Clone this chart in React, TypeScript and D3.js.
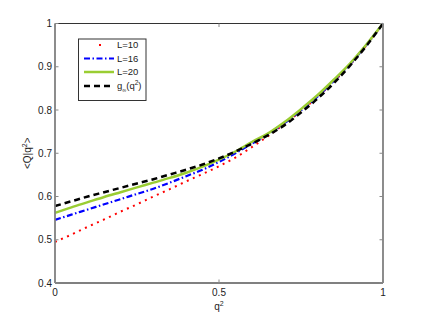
import React from "react";
import * as d3 from "d3";

const xs = [0, 0.05, 0.1, 0.15, 0.2, 0.25, 0.3, 0.35, 0.4, 0.45, 0.5, 0.55, 0.6, 0.65, 0.7, 0.75, 0.8, 0.85, 0.9, 0.95, 1];
const L10 = [0.495, 0.512, 0.53, 0.547, 0.565, 0.582, 0.6, 0.617, 0.635, 0.652, 0.67, 0.69, 0.714, 0.74, 0.768, 0.798, 0.83, 0.866, 0.905, 0.95, 1];
const L16 = [0.546, 0.558, 0.57, 0.582, 0.594, 0.606, 0.618, 0.632, 0.647, 0.662, 0.68, 0.7, 0.722, 0.745, 0.77, 0.799, 0.831, 0.867, 0.906, 0.951, 1];
const L20 = [0.562, 0.575, 0.587, 0.599, 0.61, 0.621, 0.632, 0.643, 0.655, 0.669, 0.685, 0.704, 0.726, 0.746, 0.772, 0.802, 0.834, 0.87, 0.908, 0.952, 1];
const Ginf = [0.578, 0.589, 0.6, 0.61, 0.62, 0.63, 0.64, 0.651, 0.662, 0.674, 0.688, 0.704, 0.722, 0.742, 0.765, 0.794, 0.826, 0.862, 0.903, 0.949, 1];

const yTicks = [0.4, 0.5, 0.6, 0.7, 0.8, 0.9, 1];
const xTicks = [0, 0.5, 1];
const legendLabels = ["L=10", "L=16", "L=20"];

const FONT = "'Liberation Sans', Arial, Helvetica, sans-serif";

export default function App() {
  const W = 424, H = 319;
  const left = 55, right = 383, top = 23.5, bottom = 283;
  const x = d3.scaleLinear().domain([0, 1]).range([left, right]);
  const y = d3.scaleLinear().domain([0.4, 1]).range([bottom, top]);
  const line = (vals: number[]) =>
    d3.line<number>().x((_, i) => x(xs[i])).y((v) => y(v)).curve(d3.curveMonotoneX)(vals) || "";

  const series = [
    { vals: L10, color: "#ff0000", width: 2, dash: "2,4.6", cap: "butt" },
    { vals: L16, color: "#0000ff", width: 2.2, dash: "6,2.5,1.5,2.5", cap: "butt" },
    { vals: L20, color: "#9acd32", width: 2.5, dash: "", cap: "butt" },
    { vals: Ginf, color: "#000000", width: 2.5, dash: "6,4", cap: "butt" },
  ];

  const lgX0 = 84, lgX1 = 114, lgText = 117;
  const rows = [45, 58.5, 72, 86];

  return (
    <svg width={W} height={H} style={{ position: "absolute", left: 0, top: 0, background: "#fff" }}>
      <rect x={0} y={0} width={W} height={H} fill="#fff" />
      {series.map((s, i) => (
        <path key={i} d={line(s.vals)} fill="none" stroke={s.color} strokeWidth={s.width}
          strokeDasharray={s.dash || undefined} strokeLinecap={s.cap as any} />
      ))}
      {/* axes box */}
      <line x1={left} x2={right} y1={top} y2={top} stroke="#333" strokeWidth={1} />
      <line x1={left} x2={left} y1={top} y2={bottom} stroke="#808080" strokeWidth={1.8} />
      <line x1={right} x2={right} y1={top} y2={bottom} stroke="#808080" strokeWidth={1.8} />
      <line x1={left} x2={right} y1={bottom} y2={bottom} stroke="#808080" strokeWidth={1.8} />
      {yTicks.map((t) => (
        <g key={t}>
          <line x1={left} x2={left + 3.5} y1={y(t)} y2={y(t)} stroke="#888" />
          <line x1={right - 3.5} x2={right} y1={y(t)} y2={y(t)} stroke="#888" />
          <text x={left - 3} y={y(t)} dy="0.35em" textAnchor="end" fontSize={10} fontFamily={FONT} fill="#222">{t === 1 ? "1" : t.toFixed(1)}</text>
        </g>
      ))}
      {xTicks.map((t) => (
        <g key={t}>
          <line x1={x(t)} x2={x(t)} y1={bottom} y2={bottom - 3.5} stroke="#888" />
          <line x1={x(t)} x2={x(t)} y1={top} y2={top + 3.5} stroke="#888" />
          <text x={x(t)} y={bottom + 13} textAnchor="middle" fontSize={10} fontFamily={FONT} fill="#222">{t === 0 ? "0" : t === 1 ? "1" : "0.5"}</text>
        </g>
      ))}
      <text x={x(0.5)} y={310} textAnchor="middle" fontSize={10} fontFamily={FONT} fill="#222">
        q<tspan dy={-4} fontSize={7}>2</tspan>
      </text>
      <text transform={`translate(31,${(top + bottom) / 2}) rotate(-90)`} textAnchor="middle" fontSize={10} fontFamily={FONT} fill="#222">
        {"<Q|q"}<tspan dy={-4} fontSize={7}>2</tspan><tspan dy={4}>{">"}</tspan>
      </text>
      {/* legend */}
      <rect x={78.5} y={39} width={67.5} height={61.5} fill="#fff" stroke="#333" strokeWidth={1} />
      <rect x={x(0) + 44} y={rows[0] - 1} width={2} height={2} fill="#ff0000" />
      {series.slice(1).map((s, i) => (
        <line key={i} x1={lgX0} x2={lgX1} y1={rows[i + 1]} y2={rows[i + 1]} stroke={s.color} strokeWidth={s.width}
          strokeDasharray={s.dash || undefined} />
      ))}
      {legendLabels.map((l, i) => (
        <text key={l} x={lgText} y={rows[i]} dy="0.35em" fontSize={9.5} fontFamily={FONT} fill="#222">{l}</text>
      ))}
      <text x={lgText} y={rows[3]} dy="0.35em" fontSize={9.5} fontFamily={FONT} fill="#222">
        g<tspan dy={2.5} fontSize={5.5}>∞</tspan><tspan dy={-2.5}>(q</tspan><tspan dy={-4} fontSize={6.5}>2</tspan><tspan dy={4}>)</tspan>
      </text>
    </svg>
  );
}
